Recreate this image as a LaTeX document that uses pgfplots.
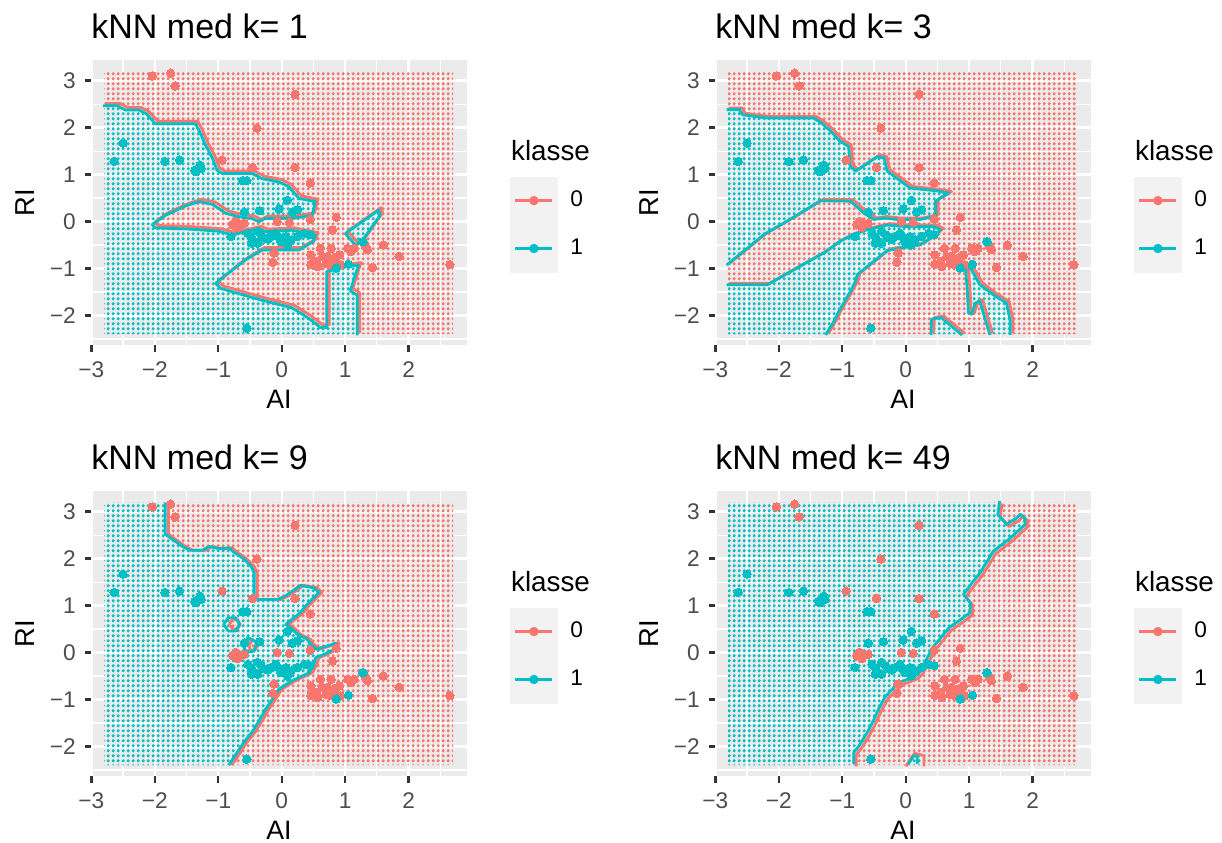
\documentclass[border=0pt]{standalone}
\usepackage{fontspec}
\setmainfont{Liberation Sans}
\usepackage{pgfplots}
\usepackage{pgfplotstable}
\pgfplotsset{compat=1.18}
\usetikzlibrary{patterns.meta}
\definecolor{salm}{HTML}{F8766D}
\definecolor{tea}{HTML}{00BFC4}
\definecolor{panelbg}{HTML}{EBEBEB}
\definecolor{keybg}{HTML}{F2F2F2}
\definecolor{grey30}{HTML}{4D4D4D}
\definecolor{grey20}{HTML}{333333}

\pgfdeclarepattern{
  name=griddots,
  type=uncolored,
  bottom left={\pgfpoint{0pt}{0pt}},
  top right={\pgfpoint{2.29pt}{2.113pt}},
  tile size={\pgfpoint{2.29pt}{2.113pt}},
  code={\pgfpathcircle{\pgfpoint{1.145pt}{1.0565pt}}{0.86pt}\pgfusepath{fill}}
}

% observed data points (class 0 and class 1)
\pgfplotstableread{
x y
-2.04 3.10
-1.75 3.16
-1.68 2.89
0.21 2.71
-0.39 1.99
-0.94 1.31
-0.46 1.15
0.21 1.15
0.45 0.82
0.86 0.09
0.80 -0.18
-0.73 0.00
-0.59 -0.04
-0.69 -0.13
-0.77 -0.07
-0.66 -0.05
-0.07 0.00
0.12 -0.02
0.45 0.05
-0.12 -0.67
-0.14 -0.87
0.46 -0.71
0.46 -0.91
0.61 -0.57
0.57 -0.96
0.72 -0.74
0.78 -0.57
0.91 -0.71
0.88 -0.91
0.78 -0.92
0.93 -0.92
1.04 -0.57
1.09 -0.64
1.14 -0.57
0.70 -0.89
0.83 -0.78
0.65 -0.75
0.55 -0.85
1.32 -0.53
1.35 -0.60
1.60 -0.50
1.43 -0.98
1.85 -0.74
2.65 -0.92
}\ptsA
\pgfplotstableread{
x y
-2.64 1.28
-2.50 1.67
-1.84 1.28
-1.61 1.31
-1.35 1.06
-1.29 1.20
-1.27 1.13
-1.37 1.09
-0.61 0.87
-0.55 0.87
0.09 0.45
-0.59 0.20
-0.35 0.23
-0.04 0.27
0.17 0.20
0.25 0.25
-0.80 -0.32
-0.48 -0.32
-0.43 -0.43
-0.32 -0.28
-0.27 -0.35
-0.17 -0.32
-0.06 -0.32
-0.01 -0.43
0.07 -0.32
0.15 -0.39
0.25 -0.32
0.36 -0.25
-0.48 -0.46
-0.38 -0.46
-0.22 -0.37
-0.09 -0.25
0.09 -0.50
0.45 -0.28
-0.38 -0.21
-0.53 -0.25
1.28 -0.43
1.05 -0.91
0.86 -0.99
-0.55 -2.27
}\ptsB

\pgfplotsset{
  knn/.style={
    scale only axis, width=169.2pt, height=128.25pt,
    xmin=-3.005, xmax=2.92, ymin=-2.64, ymax=3.43,
    axis background/.style={fill=panelbg},
    axis line style={draw=none},
    grid=both,
    major grid style={white, line width=1.07pt},
    minor grid style={white, line width=0.53pt},
    xtick={-3,-2,-1,0,1,2}, xticklabels={−3,−2,−1,0,1,2},
    ytick={-2,-1,0,1,2,3}, yticklabels={−2,−1,0,1,2,3},
    minor xtick={-2.5,-1.5,-0.5,0.5,1.5,2.5},
    minor ytick={-2.5,-1.5,-0.5,0.5,1.5,2.5},
    tick align=outside, tick pos=left,
    major tick length=2.75pt, minor tick length=0pt,
    major tick style={grey20, line width=1.07pt},
    xticklabel style={font=\fontsize{10.2}{12}\selectfont, text=grey30, inner sep=0pt, anchor=north, yshift=-4.55pt},
    yticklabel style={font=\fontsize{10.2}{12}\selectfont, text=grey30, inner sep=0pt, anchor=east, xshift=-3.9pt},
    xlabel=AI, ylabel=RI,
    xlabel style={font=\fontsize{12}{14}\selectfont, at={(axis description cs:0.5,-0.222)}, anchor=base, inner sep=0pt},
    ylabel style={font=\fontsize{12.3}{14}\selectfont, at={(axis description cs:-0.149,0.5)}, anchor=base, inner sep=0pt},
    every axis title shift=0pt,
    title style={font=\fontsize{15.3}{17}\selectfont, at={(axis description cs:0,1.078)}, anchor=base west, inner sep=0pt},
    legend style={at={(axis description cs:1.1144,0.5923)}, anchor=north west, draw=none, fill=none,
      inner sep=0pt, outer sep=0pt, row sep=0pt, column sep=5.6pt,
      font=\fontsize{10.2}{12}\selectfont, nodes={inner sep=0pt}},
    legend cell align=left,
    extra description/.code={\node[anchor=base west, inner sep=0pt, font=\fontsize{12.5}{14}\selectfont] at (1.1162,0.6484) {klasse};},
  },
  sfill/.style={draw=none, pattern=griddots, pattern color=salm, even odd rule, unbounded coords=jump, forget plot},
  tfill/.style={draw=none, pattern=griddots, pattern color=tea, even odd rule, unbounded coords=jump, forget plot},
  sline/.style={salm, line width=1.25pt, unbounded coords=jump, forget plot, line join=round},
  tline/.style={tea, line width=1.25pt, unbounded coords=jump, forget plot, line join=round},
  ptsS/.style={salm, only marks, mark=*, mark size=1.9pt, mark options={draw=salm, fill=salm, line width=0pt}, forget plot},
  ptsT/.style={tea, only marks, mark=*, mark size=1.9pt, mark options={draw=tea, fill=tea, line width=0pt}, forget plot},
}
\newcommand{\knnlegend}{%
  \addlegendimage{legend image code/.code={\fill[keybg] (0pt,-10.575pt) rectangle (21.15pt,10.575pt); \draw[salm, line width=1.07pt] (2.25pt,0pt) -- (18.9pt,0pt); \fill[salm] (10.575pt,0pt) circle (1.9pt);}}
  \addlegendentry{0}
  \addlegendimage{legend image code/.code={\fill[keybg] (0pt,-10.575pt) rectangle (21.15pt,10.575pt); \draw[tea, line width=1.07pt] (2.25pt,0pt) -- (18.9pt,0pt); \fill[tea] (10.575pt,0pt) circle (1.9pt);}}
  \addlegendentry{1}
}

\begin{document}
\begin{tikzpicture}
\path[use as bounding box] (0,0) rectangle (549.9pt,379.35pt);

% ---------------- panel 1: k = 1
\begin{axis}[knn, at={(40.95pt,223.875pt)}, anchor=south west, title={kNN med k= 1}]
\addplot[sfill] coordinates {(-2.80,-2.40) (2.70,-2.40) (2.70,3.20) (-2.80,3.20) (nan,nan)
(-2.80,2.49) (-2.57,2.49) (-2.44,2.40) (-2.23,2.40) (-2.12,2.33) (-1.97,2.11) (-1.34,2.11) (-1.26,1.90) (-1.18,1.65) (-1.07,1.37) (-1.00,1.12) (-0.92,1.05) (-0.45,1.05) (-0.29,0.94) (-0.03,0.87) (0.13,0.77) (0.29,0.52) (0.55,0.45) (0.50,0.16) (0.18,0.09) (-0.24,0.09) (-0.34,0.02) (-0.45,0.09) (-0.66,0.13) (-0.86,0.20) (-1.07,0.39) (-1.28,0.45) (-1.49,0.36) (-1.81,0.16) (-2.02,-0.04) (-1.97,-0.11) (-1.49,-0.13) (-0.97,-0.18) (-0.76,-0.26) (-0.55,-0.19) (-0.34,-0.13) (-0.24,-0.19) (0.18,-0.16) (0.55,-0.26) (0.52,-0.40) (0.29,-0.58) (0.03,-0.58) (-0.29,-0.58) (-0.55,-0.79) (-0.76,-1.01) (-1.02,-1.29) (-0.94,-1.40) (-0.76,-1.47) (-0.29,-1.65) (0.18,-1.81) (0.45,-2.04) (0.63,-2.23) (0.73,-2.23) (0.73,-1.04) (1.02,-0.94) (1.23,-0.90) (1.10,-1.45) (1.21,-1.54) (1.21,-2.40) (-2.80,-2.40) (nan,nan)
(1.02,-0.23) (1.55,0.27) (1.57,0.16) (1.28,-0.40) (1.18,-0.47)};
\addplot[tfill] coordinates {
(-2.80,2.49) (-2.57,2.49) (-2.44,2.40) (-2.23,2.40) (-2.12,2.33) (-1.97,2.11) (-1.34,2.11) (-1.26,1.90) (-1.18,1.65) (-1.07,1.37) (-1.00,1.12) (-0.92,1.05) (-0.45,1.05) (-0.29,0.94) (-0.03,0.87) (0.13,0.77) (0.29,0.52) (0.55,0.45) (0.50,0.16) (0.18,0.09) (-0.24,0.09) (-0.34,0.02) (-0.45,0.09) (-0.66,0.13) (-0.86,0.20) (-1.07,0.39) (-1.28,0.45) (-1.49,0.36) (-1.81,0.16) (-2.02,-0.04) (-1.97,-0.11) (-1.49,-0.13) (-0.97,-0.18) (-0.76,-0.26) (-0.55,-0.19) (-0.34,-0.13) (-0.24,-0.19) (0.18,-0.16) (0.55,-0.26) (0.52,-0.40) (0.29,-0.58) (0.03,-0.58) (-0.29,-0.58) (-0.55,-0.79) (-0.76,-1.01) (-1.02,-1.29) (-0.94,-1.40) (-0.76,-1.47) (-0.29,-1.65) (0.18,-1.81) (0.45,-2.04) (0.63,-2.23) (0.73,-2.23) (0.73,-1.04) (1.02,-0.94) (1.23,-0.90) (1.10,-1.45) (1.21,-1.54) (1.21,-2.40) (-2.80,-2.40) (nan,nan)
(1.02,-0.23) (1.55,0.27) (1.57,0.16) (1.28,-0.40) (1.18,-0.47)};
\addplot[sline, xshift=0.55pt, yshift=0.55pt] coordinates {
(-2.80,2.49) (-2.57,2.49) (-2.44,2.40) (-2.23,2.40) (-2.12,2.33) (-1.97,2.11) (-1.34,2.11) (-1.26,1.90) (-1.18,1.65) (-1.07,1.37) (-1.00,1.12) (-0.92,1.05) (-0.45,1.05) (-0.29,0.94) (-0.03,0.87) (0.13,0.77) (0.29,0.52) (0.55,0.45) (0.50,0.16) (0.18,0.09) (-0.24,0.09) (-0.34,0.02) (-0.45,0.09) (-0.66,0.13) (-0.86,0.20) (-1.07,0.39) (-1.28,0.45) (-1.49,0.36) (-1.81,0.16) (-2.02,-0.04) (-1.97,-0.11) (-1.49,-0.13) (-0.97,-0.18) (-0.76,-0.26) (-0.55,-0.19) (-0.34,-0.13) (-0.24,-0.19) (0.18,-0.16) (0.55,-0.26) (0.52,-0.40) (0.29,-0.58) (0.03,-0.58) (-0.29,-0.58) (-0.55,-0.79) (-0.76,-1.01) (-1.02,-1.29) (-0.94,-1.40) (-0.76,-1.47) (-0.29,-1.65) (0.18,-1.81) (0.45,-2.04) (0.63,-2.23) (0.73,-2.23) (0.73,-1.04) (1.02,-0.94) (1.23,-0.90) (1.10,-1.45) (1.21,-1.54) (1.21,-2.40) (nan,nan)
(1.02,-0.23) (1.55,0.27) (1.57,0.16) (1.28,-0.40) (1.18,-0.47) (1.02,-0.23)};
\addplot[tline, xshift=-0.55pt, yshift=-0.55pt] coordinates {
(-2.80,2.49) (-2.57,2.49) (-2.44,2.40) (-2.23,2.40) (-2.12,2.33) (-1.97,2.11) (-1.34,2.11) (-1.26,1.90) (-1.18,1.65) (-1.07,1.37) (-1.00,1.12) (-0.92,1.05) (-0.45,1.05) (-0.29,0.94) (-0.03,0.87) (0.13,0.77) (0.29,0.52) (0.55,0.45) (0.50,0.16) (0.18,0.09) (-0.24,0.09) (-0.34,0.02) (-0.45,0.09) (-0.66,0.13) (-0.86,0.20) (-1.07,0.39) (-1.28,0.45) (-1.49,0.36) (-1.81,0.16) (-2.02,-0.04) (-1.97,-0.11) (-1.49,-0.13) (-0.97,-0.18) (-0.76,-0.26) (-0.55,-0.19) (-0.34,-0.13) (-0.24,-0.19) (0.18,-0.16) (0.55,-0.26) (0.52,-0.40) (0.29,-0.58) (0.03,-0.58) (-0.29,-0.58) (-0.55,-0.79) (-0.76,-1.01) (-1.02,-1.29) (-0.94,-1.40) (-0.76,-1.47) (-0.29,-1.65) (0.18,-1.81) (0.45,-2.04) (0.63,-2.23) (0.73,-2.23) (0.73,-1.04) (1.02,-0.94) (1.23,-0.90) (1.10,-1.45) (1.21,-1.54) (1.21,-2.40) (nan,nan)
(1.02,-0.23) (1.55,0.27) (1.57,0.16) (1.28,-0.40) (1.18,-0.47) (1.02,-0.23)};
\addplot[ptsS] table {\ptsA};
\addplot[ptsT] table {\ptsB};
\knnlegend
\end{axis}

% ---------------- panel 2: k = 3
\begin{axis}[knn, at={(321.75pt,223.875pt)}, anchor=south west, title={kNN med k= 3}]
\addplot[sfill] coordinates {(-2.80,-2.40) (2.70,-2.40) (2.70,3.20) (-2.80,3.20) (nan,nan)
(-2.80,2.40) (-2.60,2.40) (-2.55,2.29) (-2.16,2.22) (-1.43,2.22) (-1.32,2.13) (-1.16,1.94) (-1.01,1.72) (-0.88,1.62) (-0.85,1.19) (-0.77,1.09) (-0.56,1.28) (-0.43,1.40) (-0.32,1.37) (-0.27,1.09) (-0.12,0.94) (0.09,0.73) (0.51,0.67) (0.70,0.62) (0.57,0.52) (0.49,0.45) (0.49,0.13) (0.25,0.06) (-0.12,0.06) (-0.32,0.09) (-0.48,0.06) (-0.64,0.20) (-0.85,0.45) (-1.32,0.46) (-1.74,0.11) (-2.21,-0.26) (-2.80,-0.91) (nan,nan)
(-2.80,-1.33) (-2.16,-1.33) (-1.69,-0.97) (-1.27,-0.65) (-1.01,-0.40) (-0.80,-0.26) (-0.59,-0.16) (-0.27,-0.06) (0.04,-0.09) (0.46,-0.09) (0.57,-0.16) (0.46,-0.30) (0.25,-0.48) (0.04,-0.53) (-0.27,-0.60) (-0.48,-0.83) (-0.74,-1.11) (-0.77,-1.26) (-0.85,-1.47) (-1.03,-1.89) (-1.11,-2.11) (-1.24,-2.40) (-2.80,-2.40) (nan,nan)
(1.35,-2.40) (1.25,-1.96) (1.19,-1.68) (1.12,-1.72) (1.06,-1.96) (1.01,-1.93) (0.99,-1.40) (0.96,-0.94) (1.04,-0.97) (1.19,-1.33) (1.40,-1.54) (1.61,-1.72) (1.67,-2.11) (1.67,-2.40) (nan,nan)
(0.42,-2.40) (0.43,-2.06) (0.58,-2.03) (0.91,-2.40)};
\addplot[tfill] coordinates {
(-2.80,2.40) (-2.60,2.40) (-2.55,2.29) (-2.16,2.22) (-1.43,2.22) (-1.32,2.13) (-1.16,1.94) (-1.01,1.72) (-0.88,1.62) (-0.85,1.19) (-0.77,1.09) (-0.56,1.28) (-0.43,1.40) (-0.32,1.37) (-0.27,1.09) (-0.12,0.94) (0.09,0.73) (0.51,0.67) (0.70,0.62) (0.57,0.52) (0.49,0.45) (0.49,0.13) (0.25,0.06) (-0.12,0.06) (-0.32,0.09) (-0.48,0.06) (-0.64,0.20) (-0.85,0.45) (-1.32,0.46) (-1.74,0.11) (-2.21,-0.26) (-2.80,-0.91) (nan,nan)
(-2.80,-1.33) (-2.16,-1.33) (-1.69,-0.97) (-1.27,-0.65) (-1.01,-0.40) (-0.80,-0.26) (-0.59,-0.16) (-0.27,-0.06) (0.04,-0.09) (0.46,-0.09) (0.57,-0.16) (0.46,-0.30) (0.25,-0.48) (0.04,-0.53) (-0.27,-0.60) (-0.48,-0.83) (-0.74,-1.11) (-0.77,-1.26) (-0.85,-1.47) (-1.03,-1.89) (-1.11,-2.11) (-1.24,-2.40) (-2.80,-2.40) (nan,nan)
(1.35,-2.40) (1.25,-1.96) (1.19,-1.68) (1.12,-1.72) (1.06,-1.96) (1.01,-1.93) (0.99,-1.40) (0.96,-0.94) (1.04,-0.97) (1.19,-1.33) (1.40,-1.54) (1.61,-1.72) (1.67,-2.11) (1.67,-2.40) (nan,nan)
(0.42,-2.40) (0.43,-2.06) (0.58,-2.03) (0.91,-2.40)};
\addplot[sline, xshift=0.6pt, yshift=0.35pt] coordinates {
(-2.80,2.40) (-2.60,2.40) (-2.55,2.29) (-2.16,2.22) (-1.43,2.22) (-1.32,2.13) (-1.16,1.94) (-1.01,1.72) (-0.88,1.62) (-0.85,1.19) (-0.77,1.09) (-0.56,1.28) (-0.43,1.40) (-0.32,1.37) (-0.27,1.09) (-0.12,0.94) (0.09,0.73) (0.51,0.67) (0.70,0.62) (0.57,0.52) (0.49,0.45) (0.49,0.13) (0.25,0.06) (-0.12,0.06) (-0.32,0.09) (-0.48,0.06) (-0.64,0.20) (-0.85,0.45) (-1.32,0.46) (-1.74,0.11) (-2.21,-0.26) (-2.80,-0.91) (nan,nan)
(-2.80,-1.33) (-2.16,-1.33) (-1.69,-0.97) (-1.27,-0.65) (-1.01,-0.40) (-0.80,-0.26) (-0.59,-0.16) (-0.27,-0.06) (0.04,-0.09) (0.46,-0.09) (0.57,-0.16) (0.46,-0.30) (0.25,-0.48) (0.04,-0.53) (-0.27,-0.60) (-0.48,-0.83) (-0.74,-1.11) (-0.77,-1.26) (-0.85,-1.47) (-1.03,-1.89) (-1.11,-2.11) (-1.24,-2.40) (nan,nan)
(1.35,-2.40) (1.25,-1.96) (1.19,-1.68) (1.12,-1.72) (1.06,-1.96) (1.01,-1.93) (0.99,-1.40) (0.96,-0.94) (1.04,-0.97) (1.19,-1.33) (1.40,-1.54) (1.61,-1.72) (1.67,-2.11) (1.67,-2.40) (nan,nan)
(0.42,-2.40) (0.43,-2.06) (0.58,-2.03) (0.91,-2.40)};
\addplot[tline, xshift=-0.6pt, yshift=-0.35pt] coordinates {
(-2.80,2.40) (-2.60,2.40) (-2.55,2.29) (-2.16,2.22) (-1.43,2.22) (-1.32,2.13) (-1.16,1.94) (-1.01,1.72) (-0.88,1.62) (-0.85,1.19) (-0.77,1.09) (-0.56,1.28) (-0.43,1.40) (-0.32,1.37) (-0.27,1.09) (-0.12,0.94) (0.09,0.73) (0.51,0.67) (0.70,0.62) (0.57,0.52) (0.49,0.45) (0.49,0.13) (0.25,0.06) (-0.12,0.06) (-0.32,0.09) (-0.48,0.06) (-0.64,0.20) (-0.85,0.45) (-1.32,0.46) (-1.74,0.11) (-2.21,-0.26) (-2.80,-0.91) (nan,nan)
(-2.80,-1.33) (-2.16,-1.33) (-1.69,-0.97) (-1.27,-0.65) (-1.01,-0.40) (-0.80,-0.26) (-0.59,-0.16) (-0.27,-0.06) (0.04,-0.09) (0.46,-0.09) (0.57,-0.16) (0.46,-0.30) (0.25,-0.48) (0.04,-0.53) (-0.27,-0.60) (-0.48,-0.83) (-0.74,-1.11) (-0.77,-1.26) (-0.85,-1.47) (-1.03,-1.89) (-1.11,-2.11) (-1.24,-2.40) (nan,nan)
(1.35,-2.40) (1.25,-1.96) (1.19,-1.68) (1.12,-1.72) (1.06,-1.96) (1.01,-1.93) (0.99,-1.40) (0.96,-0.94) (1.04,-0.97) (1.19,-1.33) (1.40,-1.54) (1.61,-1.72) (1.67,-2.11) (1.67,-2.40) (nan,nan)
(0.42,-2.40) (0.43,-2.06) (0.58,-2.03) (0.91,-2.40)};
\addplot[ptsS] table {\ptsA};
\addplot[ptsT] table {\ptsB};
\knnlegend
\end{axis}

% ---------------- panel 3: k = 9
\begin{axis}[knn, at={(40.95pt,29.925pt)}, anchor=south west, title={kNN med k= 9}]
\addplot[sfill] coordinates {(-2.80,-2.40) (2.70,-2.40) (2.70,3.20) (-2.80,3.20) (nan,nan)
(-1.81,3.20) (-1.81,2.52) (-1.54,2.26) (-1.43,2.18) (-1.22,2.18) (-1.12,2.26) (-0.96,2.21) (-0.80,2.23) (-0.75,2.16) (-0.57,1.99) (-0.46,1.84) (-0.41,1.70) (-0.41,1.13) (-0.04,1.13) (0.09,1.21) (0.32,1.43) (0.53,1.38) (0.61,1.28) (0.53,1.17) (0.40,0.99) (0.32,0.85) (0.19,0.71) (0.09,0.60) (0.19,0.50) (0.27,0.39) (0.43,0.28) (0.46,0.21) (0.56,0.07) (0.74,0.14) (0.88,0.20) (0.85,0.07) (0.69,-0.04) (0.56,-0.11) (0.53,-0.25) (0.46,-0.43) (0.19,-0.60) (-0.02,-0.78) (-0.12,-0.99) (-0.23,-1.21) (-0.33,-1.45) (-0.43,-1.67) (-0.57,-1.91) (-0.81,-2.40) (-2.80,-2.40) (-2.80,3.20) (nan,nan)
(-0.85,0.60) (-0.80,0.70) (-0.72,0.70) (-0.68,0.60) (-0.72,0.50) (-0.80,0.50) (nan,nan)
(-0.54,0.14) (-0.49,0.28) (-0.41,0.21) (-0.43,0.07) (-0.51,0.04)};
\addplot[tfill] coordinates {
(-1.81,3.20) (-1.81,2.52) (-1.54,2.26) (-1.43,2.18) (-1.22,2.18) (-1.12,2.26) (-0.96,2.21) (-0.80,2.23) (-0.75,2.16) (-0.57,1.99) (-0.46,1.84) (-0.41,1.70) (-0.41,1.13) (-0.04,1.13) (0.09,1.21) (0.32,1.43) (0.53,1.38) (0.61,1.28) (0.53,1.17) (0.40,0.99) (0.32,0.85) (0.19,0.71) (0.09,0.60) (0.19,0.50) (0.27,0.39) (0.43,0.28) (0.46,0.21) (0.56,0.07) (0.74,0.14) (0.88,0.20) (0.85,0.07) (0.69,-0.04) (0.56,-0.11) (0.53,-0.25) (0.46,-0.43) (0.19,-0.60) (-0.02,-0.78) (-0.12,-0.99) (-0.23,-1.21) (-0.33,-1.45) (-0.43,-1.67) (-0.57,-1.91) (-0.81,-2.40) (-2.80,-2.40) (-2.80,3.20) (nan,nan)
(-0.85,0.60) (-0.80,0.70) (-0.72,0.70) (-0.68,0.60) (-0.72,0.50) (-0.80,0.50) (nan,nan)
(-0.54,0.14) (-0.49,0.28) (-0.41,0.21) (-0.43,0.07) (-0.51,0.04)};
\addplot[sline, xshift=0.7pt] coordinates {
(-1.81,3.20) (-1.81,2.52) (-1.54,2.26) (-1.43,2.18) (-1.22,2.18) (-1.12,2.26) (-0.96,2.21) (-0.80,2.23) (-0.75,2.16) (-0.57,1.99) (-0.46,1.84) (-0.41,1.70) (-0.41,1.13) (-0.04,1.13) (0.09,1.21) (0.32,1.43) (0.53,1.38) (0.61,1.28) (0.53,1.17) (0.40,0.99) (0.32,0.85) (0.19,0.71) (0.09,0.60) (0.19,0.50) (0.27,0.39) (0.43,0.28) (0.46,0.21) (0.56,0.07) (0.74,0.14) (0.88,0.20) (0.85,0.07) (0.69,-0.04) (0.56,-0.11) (0.53,-0.25) (0.46,-0.43) (0.19,-0.60) (-0.02,-0.78) (-0.12,-0.99) (-0.23,-1.21) (-0.33,-1.45) (-0.43,-1.67) (-0.57,-1.91) (-0.81,-2.40) (nan,nan)
(-0.85,0.60) (-0.80,0.70) (-0.72,0.70) (-0.68,0.60) (-0.72,0.50) (-0.80,0.50) (-0.85,0.60) (nan,nan)
(-0.54,0.14) (-0.49,0.28) (-0.41,0.21) (-0.43,0.07) (-0.51,0.04) (-0.54,0.14)};
\addplot[tline, xshift=-0.7pt] coordinates {
(-1.81,3.20) (-1.81,2.52) (-1.54,2.26) (-1.43,2.18) (-1.22,2.18) (-1.12,2.26) (-0.96,2.21) (-0.80,2.23) (-0.75,2.16) (-0.57,1.99) (-0.46,1.84) (-0.41,1.70) (-0.41,1.13) (-0.04,1.13) (0.09,1.21) (0.32,1.43) (0.53,1.38) (0.61,1.28) (0.53,1.17) (0.40,0.99) (0.32,0.85) (0.19,0.71) (0.09,0.60) (0.19,0.50) (0.27,0.39) (0.43,0.28) (0.46,0.21) (0.56,0.07) (0.74,0.14) (0.88,0.20) (0.85,0.07) (0.69,-0.04) (0.56,-0.11) (0.53,-0.25) (0.46,-0.43) (0.19,-0.60) (-0.02,-0.78) (-0.12,-0.99) (-0.23,-1.21) (-0.33,-1.45) (-0.43,-1.67) (-0.57,-1.91) (-0.81,-2.40) (nan,nan)
(-0.89,0.60) (-0.82,0.74) (-0.70,0.74) (-0.64,0.60) (-0.70,0.46) (-0.82,0.46) (-0.89,0.60) (nan,nan)
(-0.58,0.14) (-0.51,0.32) (-0.37,0.22) (-0.41,0.03) (-0.53,0.00) (-0.58,0.14)};
\addplot[ptsS] table {\ptsA};
\addplot[ptsT] table {\ptsB};
\knnlegend
\end{axis}

% ---------------- panel 4: k = 49
\begin{axis}[knn, at={(321.75pt,29.925pt)}, anchor=south west, title={kNN med k= 49}]
\addplot[sfill] coordinates {(-2.80,-2.40) (2.70,-2.40) (2.70,3.20) (-2.80,3.20) (nan,nan)
(1.50,3.20) (1.47,2.91) (1.61,2.71) (1.77,2.84) (1.82,2.92) (1.90,2.84) (1.90,2.70) (1.64,2.38) (1.40,2.13) (1.30,1.91) (1.19,1.67) (1.06,1.45) (0.93,1.21) (1.04,1.03) (1.03,0.82) (0.88,0.67) (0.70,0.50) (0.59,0.32) (0.44,0.07) (0.36,-0.14) (0.25,-0.43) (0.17,-0.53) (0.04,-0.60) (-0.04,-0.64) (-0.17,-0.78) (-0.30,-0.96) (-0.40,-1.21) (-0.48,-1.45) (-0.59,-1.74) (-0.72,-2.02) (-0.80,-2.16) (-0.80,-2.40) (-2.80,-2.40) (-2.80,3.20) (nan,nan)
(0.02,-2.40) (0.14,-2.16) (0.23,-2.20) (0.23,-2.40)};
\addplot[tfill] coordinates {
(1.50,3.20) (1.47,2.91) (1.61,2.71) (1.77,2.84) (1.82,2.92) (1.90,2.84) (1.90,2.70) (1.64,2.38) (1.40,2.13) (1.30,1.91) (1.19,1.67) (1.06,1.45) (0.93,1.21) (1.04,1.03) (1.03,0.82) (0.88,0.67) (0.70,0.50) (0.59,0.32) (0.44,0.07) (0.36,-0.14) (0.25,-0.43) (0.17,-0.53) (0.04,-0.60) (-0.04,-0.64) (-0.17,-0.78) (-0.30,-0.96) (-0.40,-1.21) (-0.48,-1.45) (-0.59,-1.74) (-0.72,-2.02) (-0.80,-2.16) (-0.80,-2.40) (-2.80,-2.40) (-2.80,3.20) (nan,nan)
(0.02,-2.40) (0.14,-2.16) (0.23,-2.20) (0.23,-2.40)};
\addplot[sline, xshift=0.55pt, yshift=-0.55pt] coordinates {
(1.50,3.20) (1.47,2.91) (1.61,2.71) (1.77,2.84) (1.82,2.92) (1.90,2.84) (1.90,2.70) (1.64,2.38) (1.40,2.13) (1.30,1.91) (1.19,1.67) (1.06,1.45) (0.93,1.21) (1.04,1.03) (1.03,0.82) (0.88,0.67) (0.70,0.50) (0.59,0.32) (0.44,0.07) (0.36,-0.14) (0.25,-0.43) (0.17,-0.53) (0.04,-0.60) (-0.04,-0.64) (-0.17,-0.78) (-0.30,-0.96) (-0.40,-1.21) (-0.48,-1.45) (-0.59,-1.74) (-0.72,-2.02) (-0.80,-2.16) (-0.80,-2.40) (nan,nan)
(-0.02,-2.40) (0.12,-2.12) (0.27,-2.17) (0.27,-2.40)};
\addplot[tline, xshift=-0.55pt, yshift=0.55pt] coordinates {
(1.50,3.20) (1.47,2.91) (1.61,2.71) (1.77,2.84) (1.82,2.92) (1.90,2.84) (1.90,2.70) (1.64,2.38) (1.40,2.13) (1.30,1.91) (1.19,1.67) (1.06,1.45) (0.93,1.21) (1.04,1.03) (1.03,0.82) (0.88,0.67) (0.70,0.50) (0.59,0.32) (0.44,0.07) (0.36,-0.14) (0.25,-0.43) (0.17,-0.53) (0.04,-0.60) (-0.04,-0.64) (-0.17,-0.78) (-0.30,-0.96) (-0.40,-1.21) (-0.48,-1.45) (-0.59,-1.74) (-0.72,-2.02) (-0.80,-2.16) (-0.80,-2.40) (nan,nan)
(0.06,-2.40) (0.15,-2.22) (0.20,-2.24) (0.20,-2.40)};
\addplot[ptsS] table {\ptsA};
\addplot[ptsT] table {\ptsB};
\knnlegend
\end{axis}
\end{tikzpicture}
\end{document}
